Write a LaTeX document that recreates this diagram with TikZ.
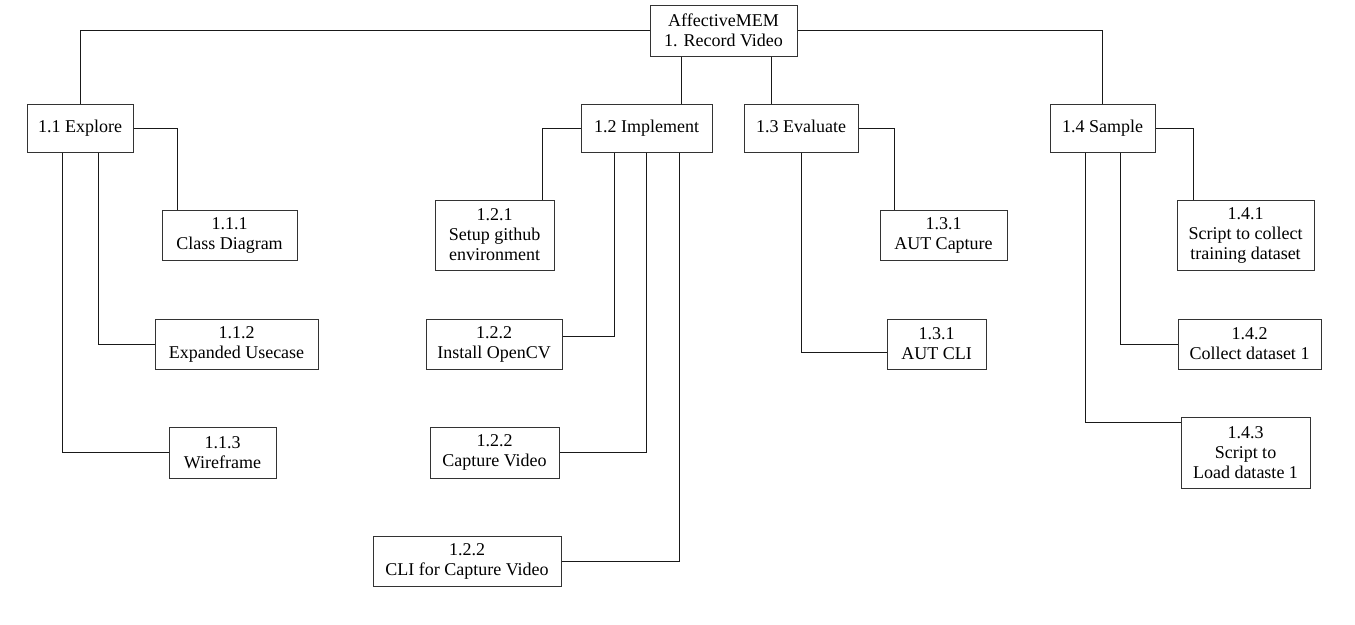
\documentclass[tikz,border=0pt]{standalone}
\usepackage{fontspec}
\setmainfont{Liberation Serif}
\begin{document}
\begin{tikzpicture}[x=1pt,y=-1pt,
  box/.style={draw=black!80, line width=1pt, inner sep=0pt, align=center, fill=white,
    font=\fontsize{18}{20}\selectfont},
  single/.style={text height=13pt, text depth=4.5pt},
  link/.style={draw=black!90, line width=1pt}]
\useasboundingbox[fill=white] (0,0) rectangle (1355,624);
% level 0
\node[box, minimum width=147, minimum height=51] (root) at (723.5,30.5) {AffectiveMEM\\1. Record Video};
% level 1
\node[box, single, minimum width=106, minimum height=48] (e11) at (80,128) {1.1 Explore};
\node[box, single, minimum width=131, minimum height=48] (e12) at (646.5,128) {1.2 Implement};
\node[box, single, minimum width=114, minimum height=48] (e13) at (801,128) {1.3 Evaluate};
\node[box, single, minimum width=105, minimum height=48] (e14) at (1102.5,128) {1.4 Sample};
% level 2
\node[box, minimum width=135, minimum height=50] (c111) at (229.5,235) {1.1.1\\Class Diagram};
\node[box, minimum width=163, minimum height=50] (c112) at (236.5,344) {1.1.2\\Expanded Usecase};
\node[box, minimum width=107, minimum height=51] (c113) at (222.5,452.5) {1.1.3\\Wireframe};
\node[box, minimum width=119, minimum height=70] (c121) at (494.5,235) {1.2.1\\Setup github\\environment};
\node[box, minimum width=136, minimum height=50] (c122) at (494,344) {1.2.2\\Install OpenCV};
\node[box, minimum width=129, minimum height=51] (c123) at (494.5,452.5) {1.2.2\\Capture Video};
\node[box, minimum width=188, minimum height=50] (c124) at (467,561) {1.2.2\\CLI for Capture Video};
\node[box, minimum width=127, minimum height=50] (c131) at (943.5,235) {1.3.1\\AUT Capture};
\node[box, minimum width=99, minimum height=50] (c132) at (936.5,344) {1.3.1\\AUT CLI};
\node[box, minimum width=137, minimum height=70] (c141) at (1245.5,235) {1.4.1\\Script to collect\\training dataset};
\node[box, minimum width=143, minimum height=50] (c142) at (1249.5,344) {1.4.2\\Collect dataset 1};
\node[box, minimum width=129, minimum height=71] (c143) at (1245.5,452.5) {1.4.3\\Script to\\Load dataste 1};
% connectors from root
\coordinate (r1) at ([xshift=-42.5]root.south);
\coordinate (r2) at ([xshift=47.5]root.south);
\draw[link] (root.west) -| (e11.north);
\draw[link] (root.east) -| (e14.north);
\draw[link] (r1) -- (r1 |- e12.north);
\draw[link] (r2) -- (r2 |- e13.north);
% explore
\coordinate (a1) at ([xshift=-52.5]c111.north);
\coordinate (a2) at ([xshift=18]e11.south);
\coordinate (a3) at ([xshift=-18]e11.south);
\draw[link] (e11.east) -| (a1);
\draw[link] (a2) |- (c112.west);
\draw[link] (a3) |- (c113.west);
% implement
\coordinate (b1) at ([xshift=47.5]c121.north);
\coordinate (b2) at ([xshift=-32.5]e12.south);
\coordinate (b4) at ([xshift=32.5]e12.south);
\draw[link] (e12.west) -| (b1);
\draw[link] (b2) |- ([yshift=8]c122.east);
\draw[link] (e12.south) |- (c123.east);
\draw[link] (b4) |- (c124.east);
% evaluate
\coordinate (d1) at ([xshift=-49.5]c131.north);
\draw[link] (e13.east) -| (d1);
\draw[link] (e13.south) |- ([yshift=-8.5]c132.west);
% sample
\coordinate (f1) at ([xshift=-52.5]c141.north);
\coordinate (f2) at ([xshift=17.5]e14.south);
\coordinate (f3) at ([xshift=-17.5]e14.south);
\draw[link] (e14.east) -| (f1);
\draw[link] (f2) |- (c142.west);
\draw[link] (f3) |- ([yshift=30.5]c143.west);
\end{tikzpicture}
\end{document}
